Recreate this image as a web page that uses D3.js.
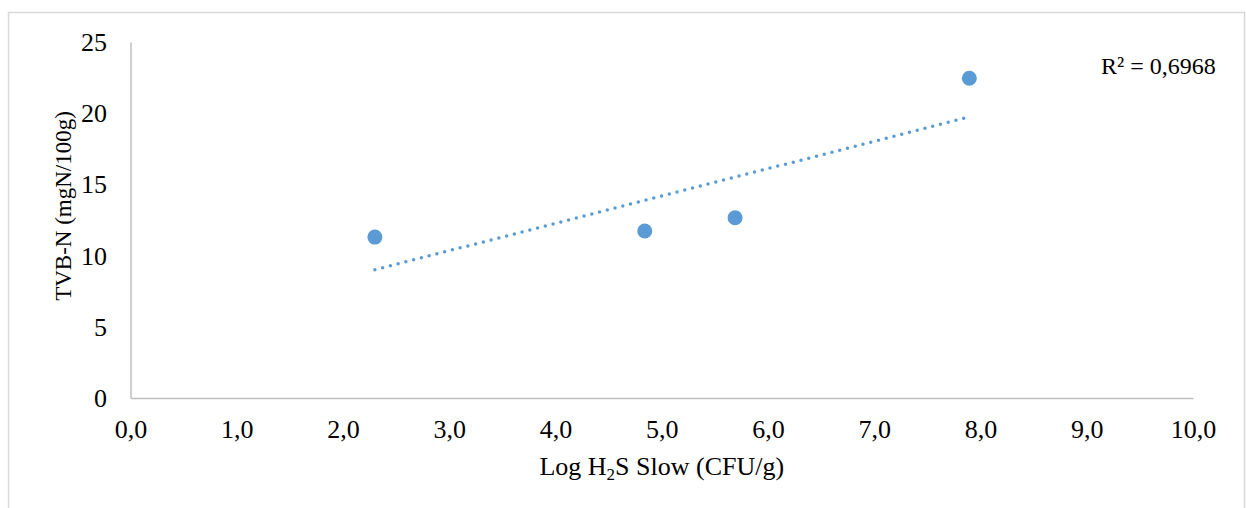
<!DOCTYPE html>
<html>
<head>
<meta charset="utf-8">
<script src="https://cdn.jsdelivr.net/npm/d3@7"></script>
<style>
  html, body { margin: 0; padding: 0; background: #fff; }
  svg { display: block; }
  text { font-family: "Liberation Serif", "Times New Roman", serif; fill: #000; }
</style>
</head>
<body>
<svg id="chart" width="1246" height="508"></svg>
<script>
// Data
const xValues = [2.30, 4.84, 5.69, 7.895];          // Log H2S Slow (CFU/g)
const yValues = [11.3, 11.73, 12.66, 22.45];        // TVB-N (mgN/100g)
const xTicks = [0, 1, 2, 3, 4, 5, 6, 7, 8, 9, 10];
const yTicks = [0, 5, 10, 15, 20, 25];
const r2Label = "R² = 0,6968";

const svg = d3.select("#chart");
const W = 1246, H = 508;
const plot = { left: 130.5, right: 1193, top: 42, bottom: 398 };

// outer frame (no bottom edge visible)
svg.append("path")
  .attr("d", `M8.5,${H} L8.5,12.5 L1244.5,12.5 L1244.5,${H}`)
  .attr("fill", "none").attr("stroke", "#d9d9d9").attr("stroke-width", 1.5);

const x = d3.scaleLinear().domain([0, 10]).range([plot.left, plot.right]);
const y = d3.scaleLinear().domain([0, 25]).range([plot.bottom, plot.top]);

const fmtX = d => d3.format(".1f")(d).replace(".", ",");

// x axis
const xAxis = svg.append("g").attr("transform", `translate(0,${plot.bottom})`)
  .call(d3.axisBottom(x).tickValues(xTicks).tickFormat(fmtX).tickSize(0).tickPadding(0));
xAxis.select(".domain").attr("stroke", "#bfbfbf").attr("stroke-width", 1.5);
xAxis.selectAll("text").attr("font-size", 26).attr("dy", 0).attr("y", 40);

// y axis
const yAxis = svg.append("g").attr("transform", `translate(${plot.left},0)`)
  .call(d3.axisLeft(y).tickValues(yTicks).tickFormat(d3.format("d")).tickSize(0).tickPadding(0));
yAxis.select(".domain").attr("stroke", "#bfbfbf").attr("stroke-width", 1.5);
yAxis.selectAll("text").attr("font-size", 26).attr("x", -23.5).attr("dy", "0.33em");

// linear trendline (least squares)
const n = xValues.length;
const mx = d3.mean(xValues), my = d3.mean(yValues);
let sxy = 0, sxx = 0;
for (let i = 0; i < n; i++) { sxy += (xValues[i]-mx)*(yValues[i]-my); sxx += (xValues[i]-mx)**2; }
const slope = sxy / sxx, intercept = my - slope * mx;
const xMin = d3.min(xValues), xMax = d3.max(xValues);
svg.append("line")
  .attr("x1", x(xMin)).attr("y1", y(slope*xMin + intercept))
  .attr("x2", x(xMax)).attr("y2", y(slope*xMax + intercept))
  .attr("stroke", "#5b9bd5").attr("stroke-width", 3.5)
  .attr("stroke-linecap", "round").attr("stroke-dasharray", "0 8");

// points
svg.append("g").selectAll("circle")
  .data(xValues.map((v, i) => ({ x: v, y: yValues[i] })))
  .join("circle")
  .attr("cx", d => x(d.x)).attr("cy", d => y(d.y)).attr("r", 7.5)
  .attr("fill", "#5b9bd5");

// R² label
svg.append("text").attr("x", 1101).attr("y", 74).attr("font-size", 24).text(r2Label);

// axis titles
const xt = svg.append("text").attr("x", (plot.left + plot.right) / 2).attr("y", 475)
  .attr("text-anchor", "middle").attr("font-size", 26);
xt.append("tspan").text("Log H");
xt.append("tspan").text("2").attr("font-size", 17).attr("dy", 5);
xt.append("tspan").text("S Slow (CFU/g)").attr("dy", -5);

svg.append("text")
  .attr("transform", "translate(71,206) rotate(-90)")
  .attr("text-anchor", "middle").attr("font-size", 23)
  .text("TVB-N (mgN/100g)");
</script>
</body>
</html>
